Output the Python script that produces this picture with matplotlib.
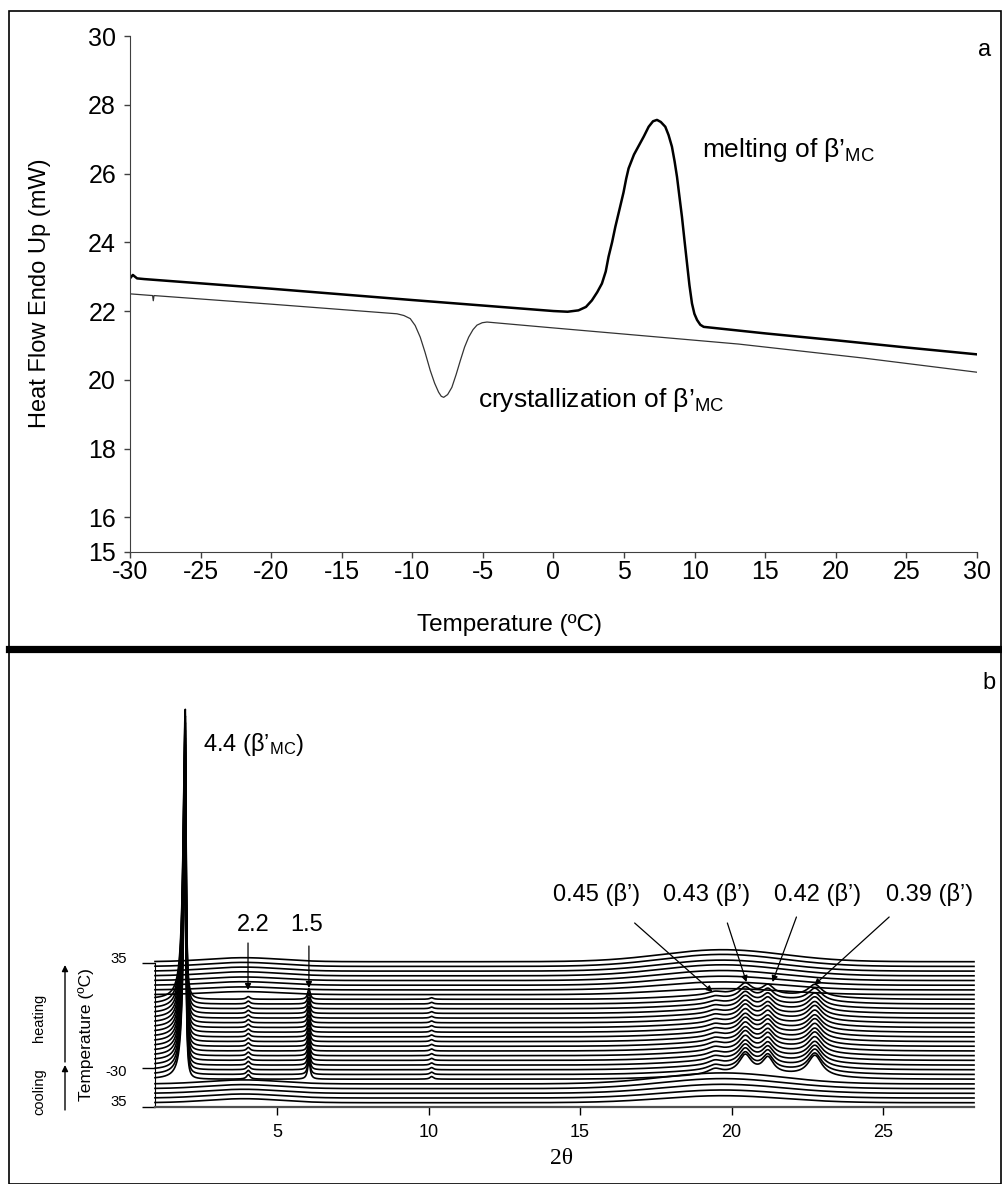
import numpy as np
import matplotlib.pyplot as plt
from matplotlib.lines import Line2D
from matplotlib.patches import Rectangle, FancyArrowPatch
from matplotlib.transforms import ScaledTranslation

plt.rcParams['font.family'] = ['Liberation Sans', 'DejaVu Sans']
plt.rcParams['mathtext.fontset'] = 'custom'
plt.rcParams['mathtext.rm'] = 'Liberation Sans'
plt.rcParams['mathtext.default'] = 'regular'
plt.rcParams['axes.unicode_minus'] = False

# ---- panel a: DSC data ----
heat_T = [-30, -29.8, -29.5, -29, -20, -10, 0, 1.0, 1.77, 2.3, 2.72, 3.1, 3.43, 3.7,
          3.9, 4.15, 4.38, 4.7, 4.96, 5.15, 5.32, 5.7, 6.03, 6.4, 6.74, 7.05, 7.33,
          7.6, 7.92, 8.15, 8.39, 8.58, 8.75, 8.93, 9.1, 9.28, 9.46, 9.63, 9.81, 9.98,
          10.17, 10.4, 10.64, 15, 20, 25, 30]
heat_flow = [22.95, 23.05, 22.95, 22.93, 22.65, 22.32, 22.0, 21.98, 22.02, 22.12, 22.31,
             22.55, 22.8, 23.15, 23.58, 24.0, 24.45, 25.0, 25.45, 25.85, 26.15, 26.55,
             26.8, 27.08, 27.36, 27.52, 27.56, 27.5, 27.36, 27.12, 26.78, 26.35, 25.9,
             25.3, 24.74, 24.05, 23.38, 22.75, 22.22, 21.92, 21.74, 21.6, 21.54, 21.35,
             21.15, 20.94, 20.74]

cool_T = [-30, -28.4, -28.35, -28.3, -20, -11.09, -10.6, -10.15, -9.8, -9.44, -9.1,
          -8.73, -8.42, -8.14, -7.95, -7.78, -7.5, -7.2, -6.9, -6.6, -6.3, -6.01, -5.7,
          -5.42, -5.05, -4.71, -0.6, 5, 13.1, 22, 30]
cool_flow = [22.5, 22.45, 22.3, 22.45, 22.2, 21.92, 21.87, 21.78, 21.58, 21.24, 20.8,
             20.27, 19.9, 19.64, 19.52, 19.49, 19.57, 19.78, 20.15, 20.56, 20.95, 21.24,
             21.46, 21.59, 21.66, 21.68, 21.53, 21.33, 21.04, 20.63, 20.22]

dsc_xticks = list(range(-30, 31, 5))
dsc_yticks = [15, 16, 18, 20, 22, 24, 26, 28, 30]

# ---- panel b: XRD waterfall, peak table ----
n_cool, n_cryst, n_melt = 5, 18, 8
peak_2theta = [4.05, 6.05, 10.1, 19.45, 20.45, 21.2, 22.75]
peak_hwhm = [0.07, 0.05, 0.07, 0.28, 0.25, 0.22, 0.28]
peak_height = [3.5, 14, 2, 4, 14, 12, 16]            # intensity for a crystalline pattern
cryst_scale = [1.3, 1.15, 1.1, 1.05, 1.0, 1.0, 1.0, 0.95, 0.95, 0.95, 0.9, 0.9,
               0.9, 0.85, 0.85, 0.8, 0.8, 0.75]
lam_2theta, lam_hwhm_left, lam_hwhm_right = 1.97, 0.08, 0.03
lam_height = [230, 235, 240, 245, 250, 255, 258, 262, 265, 268, 272, 275,
              278, 280, 283, 286, 288, 290]
hump_wide = [7, 8, 9, 10, 11] + [5] * n_cryst + [6, 8, 9, 10, 11, 11, 12, 12]
hump_small = [4, 4, 4, 4, 4] + [0] * n_cryst + [3, 3, 3.5, 3.5, 4, 4, 4, 4]
xrd_xticks = [5, 10, 15, 20, 25]
temp_ticks = [0, 38.4, 143.4]
temp_labels = ['35', '-30', '35']

dsc_notes = ['melting of β’$_{MC}$', 'crystallization of β’$_{MC}$']
xrd_notes = ['0.45 (β’)', '0.43 (β’)', '0.42 (β’)', '0.39 (β’)']
xrd_targets = [(19.37, 114.7), (20.49, 124.7), (21.35, 124.7), (22.73, 121.7)]
xrd_text_x = [15.54, 19.17, 22.83, 26.52]
xrd_tails = [(16.8, 183.7), (19.86, 183.7), (22.14, 189.7), (25.2, 189.7)]

W, H = 1003, 1184
fig = plt.figure(figsize=(W / 100, H / 100), dpi=100)


def fx(px):
    return px / W


def fy(py):
    return 1 - py / H


# frame and separator
fig.add_artist(Rectangle((fx(9.5), fy(1183.5)), fx(1001.5) - fx(9.5), fy(10.5) - fy(1183.5),
                         transform=fig.transFigure, fill=False, lw=1.2, color='black'))
fig.add_artist(Line2D([fx(9), fx(1003)], [fy(648.5)] * 2, transform=fig.transFigure,
                      lw=5.2, color='black'))

# ---- panel a ----
ax1 = fig.add_axes([fx(130), fy(551.7), (977 - 130) / W, (551.7 - 36) / H])
ax1.plot(cool_T, cool_flow, color='#333333', lw=0.9, solid_joinstyle='round')
ax1.plot(heat_T, heat_flow, color='black', lw=1.8, solid_joinstyle='round')
ax1.set_xlim(-30, 30)
ax1.set_ylim(15, 30)
ax1.set_xticks(dsc_xticks)
ax1.set_yticks(dsc_yticks)
for s in ['top', 'right']:
    ax1.spines[s].set_visible(False)
for s in ['left', 'bottom']:
    ax1.spines[s].set_color('#404040')
ax1.tick_params(axis='y', direction='out', length=4, width=1, pad=6, labelsize=18, color='#404040')
ax1.tick_params(axis='x', direction='out', length=4, width=1, pad=2, labelsize=18, color='#404040')
ax1.text(10.5, 26.68, dsc_notes[0], fontsize=19, va='center', ha='left')
ax1.text(-5.35, 19.41, dsc_notes[1], fontsize=19, va='center', ha='left')
fig.text(fx(40), fy(293), 'Heat Flow Endo Up (mW)', rotation=90, fontsize=17,
         ha='center', va='center')
fig.text(fx(510), fy(625), 'Temperature (ºC)', fontsize=17.5, ha='center', va='center')
fig.text(fx(985), fy(50), 'a', fontsize=17, ha='center', va='center')

# ---- panel b ----
ax2 = fig.add_axes([fx(155), fy(1106.7), (974 - 155) / W, (1106.7 - 700) / H])
x = np.linspace(0.97, 28.0, 6000)
n_traces = n_cool + n_cryst + n_melt
for i in range(n_traces):
    y = 4 + 4.7 * i + np.zeros_like(x)
    k = i - n_cool
    if 0 <= k < n_cryst:
        g = np.where(x < lam_2theta, lam_hwhm_left, lam_hwhm_right)
        y += lam_height[k] * g ** 2 / ((x - lam_2theta) ** 2 + g ** 2)
        for c, w, h in zip(peak_2theta, peak_hwhm, peak_height):
            y += cryst_scale[k] * h * w ** 2 / ((x - c) ** 2 + w ** 2)
        y += hump_wide[i] * np.exp(-0.5 * ((x - 20.5) / 2.0) ** 2)
    else:
        y += hump_wide[i] * np.exp(-0.5 * ((x - 19.7) / 2.0) ** 2)
        y += hump_small[i] * np.exp(-0.5 * ((x - 3.9) / 1.2) ** 2)
    ax2.plot(x, y, color='black', lw=1.2, clip_on=False)

ax2.set_xlim(0.97, 28.0)
ax2.set_ylim(0, 406.7)
ax2.set_xticks(xrd_xticks)
ax2.set_yticks(temp_ticks)
ax2.set_yticklabels(temp_labels)
for s in ['top', 'right']:
    ax2.spines[s].set_visible(False)
ax2.spines['left'].set_bounds(0, 143.4)
ax2.spines['bottom'].set_linewidth(1.6)
ax2.spines['bottom'].set_color('#505050')
ax2.tick_params(axis='y', direction='out', length=9.4, width=1, pad=10.5, labelsize=10.7)
ax2.tick_params(axis='x', direction='out', length=5.8, width=1, pad=7, labelsize=13)
for lab, dy in zip(ax2.get_yticklabels(), [6, -2, 5.6]):
    lab.set_transform(lab.get_transform() + ScaledTranslation(0, dy / 100, fig.dpi_scale_trans))

ax2.text(2.55, 361.7, '4.4 (β’$_{MC}$)', fontsize=17, va='center', ha='left')
for lbl, xt, (x0, y0), (x1, y1) in zip(['2.2', '1.5'], [4.2, 5.98],
                                       [(4.04, 163.7), (6.05, 160.7)],
                                       [(4.04, 116.7), (6.05, 118.7)]):
    ax2.text(xt, 181.7, lbl, fontsize=17, ha='center', va='center')
    ax2.annotate('', xy=(x1, y1), xytext=(x0, y0),
                 arrowprops=dict(arrowstyle='-|>', color='black', lw=0.9,
                                 mutation_scale=9, shrinkA=0, shrinkB=0))
for lbl, xt, tail, tip in zip(xrd_notes, xrd_text_x, xrd_tails, xrd_targets):
    ax2.text(xt, 211.7, lbl, fontsize=17, ha='center', va='center')
    ax2.annotate('', xy=tip, xytext=tail,
                 arrowprops=dict(arrowstyle='-|>', color='black', lw=0.9,
                                 mutation_scale=9, shrinkA=0, shrinkB=0))

fig.text(fx(562), fy(1158), '2θ', fontsize=17, family='Liberation Serif', ha='center', va='center')
fig.text(fx(86), fy(1035), 'Temperature (ºC)', rotation=90, fontsize=12.5, ha='center', va='center')
fig.text(fx(39), fy(1018), 'heating', rotation=90, fontsize=10.5, ha='center', va='center')
fig.text(fx(39), fy(1092), 'cooling', rotation=90, fontsize=10.5, ha='center', va='center')
for y0, y1 in [(1062, 965), (1110, 1065)]:
    fig.add_artist(FancyArrowPatch((fx(65), fy(y0)), (fx(65), fy(y1)), transform=fig.transFigure,
                                   arrowstyle='-|>', mutation_scale=9, lw=1, color='black',
                                   shrinkA=0, shrinkB=0))
fig.text(fx(989), fy(683), 'b', fontsize=17, ha='center', va='center')

fig.savefig('out.png', dpi=100)
